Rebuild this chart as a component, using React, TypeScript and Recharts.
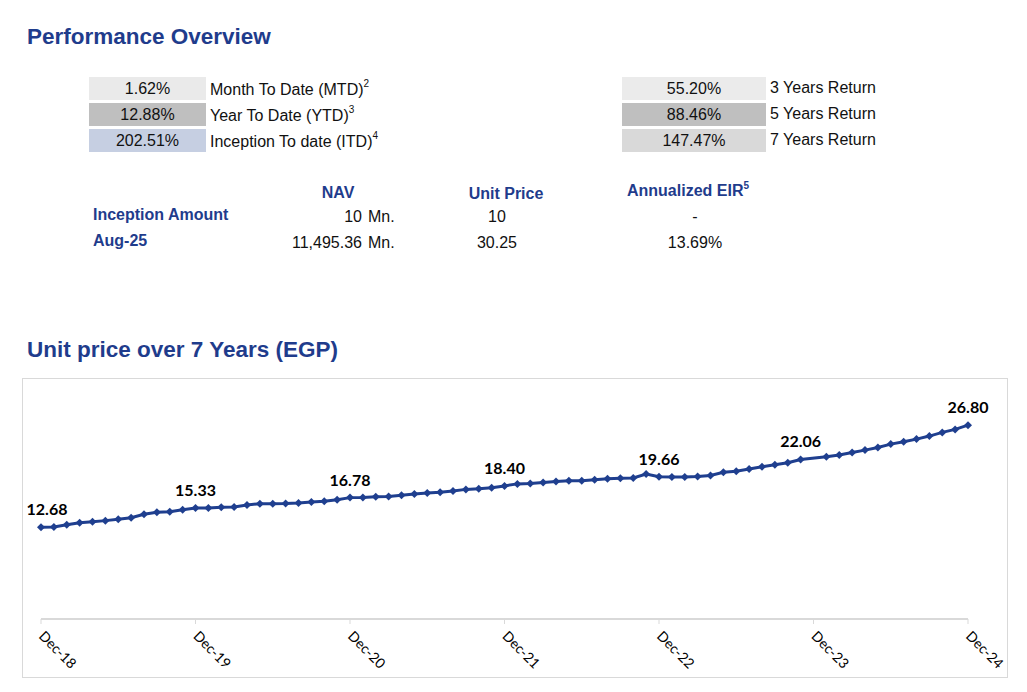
// Performance overview sheet: summary boxes, NAV table and the 7-year unit price line.
import { LabelList, Line, LineChart, XAxis, YAxis } from "recharts";

const BLUE = "#1f3c8c";
const LINE = "#1f3f8f";
const ARIAL = "Arial, 'Liberation Sans', sans-serif";
const LABEL_FONT = "Lato, 'Open Sans', sans-serif";

// period returns (left block)
const periodValues = ["1.62%", "12.88%", "202.51%"];
const periodNames = ["Month To Date (MTD)", "Year To Date (YTD)", "Inception To date (ITD)"];
const periodNotes = ["2", "3", "4"];
const periodFills = ["#eaeaea", "#bfbfbf", "#c6cfe2"];

// multi-year returns (right block)
const yearValues = ["55.20%", "88.46%", "147.47%"];
const yearNames = ["3 Years Return", "5 Years Return", "7 Years Return"];
const yearFills = ["#ebebeb", "#bfbfbf", "#d9d9d9"];

// NAV table
const tableRows = ["Inception Amount", "Aug-25"];
const navValues = ["10", "11,495.36"];
const unitPriceValues = ["10", "30.25"];
const eirValues = ["-", "13.69%"];

// monthly unit price, Dec-18 .. Dec-24 (Dec-23 not reported)
const months = [
  "Dec-18",
  "Jan-19", "Feb-19", "Mar-19", "Apr-19", "May-19", "Jun-19", "Jul-19", "Aug-19", "Sep-19", "Oct-19", "Nov-19", "Dec-19",
  "Jan-20", "Feb-20", "Mar-20", "Apr-20", "May-20", "Jun-20", "Jul-20", "Aug-20", "Sep-20", "Oct-20", "Nov-20", "Dec-20",
  "Jan-21", "Feb-21", "Mar-21", "Apr-21", "May-21", "Jun-21", "Jul-21", "Aug-21", "Sep-21", "Oct-21", "Nov-21", "Dec-21",
  "Jan-22", "Feb-22", "Mar-22", "Apr-22", "May-22", "Jun-22", "Jul-22", "Aug-22", "Sep-22", "Oct-22", "Nov-22", "Dec-22",
  "Jan-23", "Feb-23", "Mar-23", "Apr-23", "May-23", "Jun-23", "Jul-23", "Aug-23", "Sep-23", "Oct-23", "Nov-23", "Dec-23",
  "Jan-24", "Feb-24", "Mar-24", "Apr-24", "May-24", "Jun-24", "Jul-24", "Aug-24", "Sep-24", "Oct-24", "Nov-24", "Dec-24",
];
const unitPrice: (number | null)[] = [
  12.68,
  12.73, 13.04, 13.32, 13.46, 13.6, 13.79, 14.01, 14.48, 14.75, 14.84, 15.11, 15.33,
  15.35, 15.45, 15.49, 15.76, 15.94, 15.95, 15.96, 16.04, 16.18, 16.27, 16.49, 16.78,
  16.8, 16.9, 16.92, 17.12, 17.29, 17.42, 17.52, 17.69, 17.92, 18.01, 18.15, 18.4,
  18.68, 18.74, 18.88, 19.02, 19.1, 19.13, 19.26, 19.4, 19.46, 19.5, 20.04, 19.66,
  19.62, 19.63, 19.7, 19.85, 20.28, 20.42, 20.73, 21.05, 21.32, 21.6, 22.06, null,
  22.43, 22.66, 23.03, 23.35, 23.72, 24.18, 24.5, 24.87, 25.29, 25.8, 26.21, 26.8,
];
const labelledMonths = ["Dec-18", "Dec-19", "Dec-20", "Dec-21", "Dec-22", "Nov-23", "Dec-24"];

const chartData = months.map((month, i) => ({
  month,
  price: unitPrice[i],
  tag: labelledMonths.includes(month) ? unitPrice[i] : null,
}));

const Marker = (props: any) => {
  const { cx, cy, index } = props;
  if (cx == null || cy == null || props.value == null) return <g key={`m-${index}`} />;
  return (
    <path
      key={`m-${index}`}
      d={`M${cx},${cy - 4}L${cx + 4},${cy}L${cx},${cy + 4}L${cx - 4},${cy}Z`}
      fill={LINE}
    />
  );
};

const ValueLabel = (props: any) => {
  const { x, y, value, index } = props;
  if (value == null) return null;
  return (
    <text
      x={x + (index === 0 ? 6 : 0)}
      y={y - 12}
      textAnchor="middle"
      fontFamily={LABEL_FONT}
      fontWeight={700}
      fontSize={16}
      fill="#000"
    >
      {Number(value).toFixed(2)}
    </text>
  );
};

const MonthTick = (props: any) => {
  const { x, y, payload } = props;
  return (
    <g transform={`translate(${x - 3},${y + 11})`}>
      <text transform="rotate(45)" textAnchor="start" fontFamily={LABEL_FONT} fontSize={14} fill="#000">
        {payload.value}
      </text>
    </g>
  );
};

const abs = (left: number, top: number, extra: any = {}) => ({
  position: "absolute" as const,
  left,
  top,
  ...extra,
});

export default function App() {
  return (
    <div style={{ position: "absolute", left: 0, top: 0, width: 1027, height: 692, background: "#fff", fontFamily: ARIAL }}>
      <div style={abs(27, 26, { fontSize: 22.5, lineHeight: "22px", fontWeight: 700, color: BLUE })}>
        Performance Overview
      </div>

      {periodValues.map((v, i) => (
        <div key={v}>
          <div
            style={abs(89, 77 + i * 26, {
              width: 117,
              height: 23,
              lineHeight: "23px",
              background: periodFills[i],
              textAlign: "center",
              fontSize: 16,
              color: "#111",
            })}
          >
            {v}
          </div>
          <div style={abs(210, 78 + i * 26, { fontSize: 16, lineHeight: "23px", color: "#111", whiteSpace: "nowrap" })}>
            {periodNames[i]}
            <span style={{ fontSize: 10, position: "relative", top: -8 }}>{periodNotes[i]}</span>
          </div>
        </div>
      ))}

      {yearValues.map((v, i) => (
        <div key={v}>
          <div
            style={abs(622, 77 + i * 26, {
              width: 144,
              height: 23,
              lineHeight: "23px",
              background: yearFills[i],
              textAlign: "center",
              fontSize: 16,
              color: "#111",
            })}
          >
            {v}
          </div>
          <div style={abs(770, 76 + i * 26, { fontSize: 16, lineHeight: "23px", color: "#111", whiteSpace: "nowrap" })}>
            {yearNames[i]}
          </div>
        </div>
      ))}

      {/* table header */}
      <div style={abs(278, 183, { width: 120, textAlign: "center", fontSize: 16, lineHeight: "20px", fontWeight: 700, color: BLUE })}>
        NAV
      </div>
      <div style={abs(446, 184, { width: 120, textAlign: "center", fontSize: 16, lineHeight: "20px", fontWeight: 700, color: BLUE })}>
        Unit Price
      </div>
      <div style={abs(608, 181, { width: 160, textAlign: "center", fontSize: 16, lineHeight: "20px", fontWeight: 700, color: BLUE })}>
        Annualized EIR
        <span style={{ fontSize: 10, position: "relative", top: -7 }}>5</span>
      </div>

      {tableRows.map((r, i) => (
        <div key={r}>
          <div style={abs(93, 205 + i * 26, { fontSize: 16, lineHeight: "20px", fontWeight: 700, color: BLUE, whiteSpace: "nowrap" })}>
            {r}
          </div>
          <div style={abs(242, 207 + i * 26, { width: 120, textAlign: "right", fontSize: 16, lineHeight: "20px", color: "#111" })}>
            {navValues[i]}
          </div>
          <div style={abs(368, 207 + i * 26, { fontSize: 16, lineHeight: "20px", color: "#111" })}>Mn.</div>
          <div style={abs(447, 207 + i * 26, { width: 100, textAlign: "center", fontSize: 16, lineHeight: "20px", color: "#111" })}>
            {unitPriceValues[i]}
          </div>
          <div style={abs(645, 207 + i * 26, { width: 100, textAlign: "center", fontSize: 16, lineHeight: "20px", color: "#111" })}>
            {eirValues[i]}
          </div>
        </div>
      ))}

      <div style={abs(27, 339, { fontSize: 22.5, lineHeight: "22px", fontWeight: 700, color: BLUE })}>
        Unit price over 7 Years (EGP)
      </div>

      <div
        style={abs(22, 378, {
          width: 986,
          height: 300,
          border: "1px solid #d9d9d9",
          boxSizing: "border-box",
        })}
      >
        <LineChart width={984} height={298} data={chartData} margin={{ top: 23, right: 39, bottom: 0, left: 18 }}>
          <XAxis
            dataKey="month"
            interval={11}
            height={58}
            tickSize={5}
            tickLine={{ stroke: "#d9d9d9" }}
            axisLine={{ stroke: "#d9d9d9", strokeWidth: 2 }}
            tick={<MonthTick />}
          />
          <YAxis hide domain={[0, 30]} />
          <Line
            type="linear"
            dataKey="price"
            stroke={LINE}
            strokeWidth={3}
            dot={Marker}
            activeDot={false}
            connectNulls
            isAnimationActive={false}
          >
            <LabelList dataKey="tag" content={ValueLabel} />
          </Line>
        </LineChart>
      </div>
    </div>
  );
}
